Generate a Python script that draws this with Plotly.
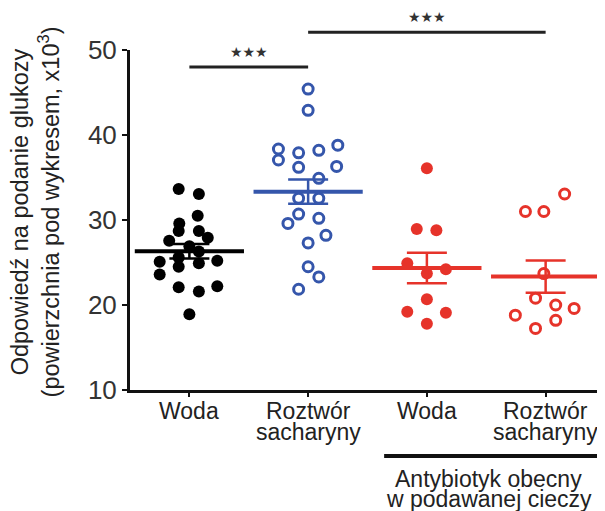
import numpy as np
import plotly.graph_objects as go

# ---- data ----
categories = ["Woda", "Roztwór<br>sacharyny", "Woda", "Roztwór<br>sacharyny"]
group_label = "Antybiotyk obecny<br>w podawanej cieczy"
y_title = "Odpowiedź na podanie glukozy<br>(powierzchnia pod wykresem, x10<sup>3</sup>)"
y_ticks = [10, 20, 30, 40, 50]
sig_text = "★★★"

water = [33.65, 33.06, 30.5, 29.6, 28.7, 28.7, 27.9, 27.56, 26.9, 26.3,
         25.6, 25.1, 25.2, 24.9, 24.5, 23.6, 22.1, 21.6, 22.2, 18.9]
water_dx = [-0.09, 0.08, 0.07, -0.085, -0.09, 0.08, 0.155, -0.17, 0.0, 0.08,
            -0.09, -0.25, 0.235, 0.08, -0.09, -0.25, -0.09, 0.08, 0.235, 0.0]

sacch = [45.4, 42.9, 38.35, 37.9, 38.2, 38.8, 37.06, 36.2, 36.3, 34.9,
         32.55, 32.55, 30.7, 29.6, 30.2, 28.2, 27.3, 24.5, 23.3, 21.85]
sacch_dx = [0.0, 0.0, -0.25, -0.08, 0.09, 0.25, -0.25, -0.08, 0.24, 0.09,
            -0.08, 0.09, -0.08, -0.17, 0.09, 0.15, 0.0, 0.0, 0.09, -0.08]

abx_water = [36.08, 28.94, 28.8, 24.9, 23.7, 24.2, 20.67, 19.2, 19.1, 17.8]
abx_water_dx = [0.0, -0.085, 0.08, -0.165, 0.0, 0.16, 0.0, -0.165, 0.16, 0.0]

abx_sacch = [33.06, 31.0, 31.0, 23.7, 20.8, 20.0, 19.6, 18.8, 18.2, 17.25]
abx_sacch_dx = [0.16, -0.17, -0.015, -0.015, -0.085, 0.085, 0.24, -0.255, 0.085, -0.085]

groups = [water, sacch, abx_water, abx_sacch]
offsets = [water_dx, sacch_dx, abx_water_dx, abx_sacch_dx]

# comparisons: (from category, to category, line level in data units, stars level)
comparisons = [(0, 1, 48.0, 49.75), (1, 3, 52.1, 53.9)]

# ---- styles ----
BLUE = "#3556ab"
RED = "#e6332a"
colors = ["#000000", BLUE, RED, RED]
symbols = ["circle", "circle-open", "circle", "circle-open"]
FONT = "Liberation Sans, Arial, sans-serif"

fig = go.Figure()

for i, (vals, dx) in enumerate(zip(groups, offsets)):
    xs = [i + d for d in dx]
    open_sym = symbols[i].endswith("open")
    fig.add_trace(go.Scatter(
        x=xs, y=vals, mode="markers", showlegend=False, hoverinfo="y",
        marker=dict(symbol=symbols[i], size=10 if open_sym else 12,
                    color=colors[i],
                    line=dict(width=3 if open_sym else 0, color=colors[i])),
    ))

for i, vals in enumerate(groups):
    arr = np.array(vals)
    mean = arr.mean()
    sem = arr.std(ddof=1) / np.sqrt(len(arr))
    fig.add_trace(go.Scatter(
        x=[i], y=[mean], mode="markers", showlegend=False,
        marker=dict(symbol="line-ew", size=78, color=colors[i],
                    line=dict(width=4, color=colors[i])),
        error_y=dict(type="data", array=[sem], visible=True, width=20,
                     thickness=2.5, color=colors[i]),
    ))

# significance bars
for a, b, level, star_level in comparisons:
    fig.add_shape(type="line", xref="x", yref="paper",
                  x0=a, x1=b, y0=(level - 10) / 40, y1=(level - 10) / 40,
                  line=dict(color="#222222", width=3))
    fig.add_annotation(x=(a + b) / 2, y=(star_level - 10) / 40, xref="x", yref="paper",
                       text=sig_text, showarrow=False, yanchor="middle",
                       font=dict(family="DejaVu Sans", size=14, color="#333333"))

# category labels (as real text, two lines with tight spacing)
line_shift = [-21, -42]
for i, lab in enumerate(categories):
    for j, part in enumerate(lab.split("<br>")):
        fig.add_annotation(x=i, y=0, xref="x", yref="paper", text=part,
                           showarrow=False, yanchor="middle", yshift=line_shift[j],
                           font=dict(family=FONT, size=23, color="#222222"))

# antibiotic bracket
fig.add_shape(type="line", xref="x", yref="paper", x0=1.64, x1=3.5,
              y0=-0.194, y1=-0.194, line=dict(color="#111111", width=4))
for j, part in enumerate(group_label.split("<br>")):
    fig.add_annotation(x=2.52, y=0, xref="x", yref="paper", text=part,
                       showarrow=False, yanchor="middle", yshift=[-89, -109][j],
                       font=dict(family=FONT, size=23, color="#222222"))

# y-axis title
fig.add_annotation(x=-0.198, y=0.525, xref="paper", yref="paper", text=y_title,
                   textangle=-90, showarrow=False, xanchor="center", yanchor="middle",
                   font=dict(family=FONT, size=23.5, color="#222222"))

# the page body adds an 8px offset; margins compensate so the plot lands in place
fig.update_layout(
    width=605, height=511,
    margin=dict(l=122, r=8, t=42, b=129),
    paper_bgcolor="white", plot_bgcolor="white",
    font=dict(family=FONT, color="#222222"),
    xaxis=dict(range=[-0.5, 3.5], tickvals=[0, 1, 2, 3], showticklabels=False,
               ticks="outside", ticklen=4, tickwidth=2, tickcolor="#111111",
               showline=True, linewidth=3, linecolor="#111111",
               showgrid=False, zeroline=False, fixedrange=True),
    yaxis=dict(range=[10, 50], tickvals=y_ticks, ticks="outside", ticklen=5,
               tickwidth=2, tickcolor="#111111",
               showline=True, linewidth=3, linecolor="#111111",
               showgrid=False, zeroline=False,
               tickfont=dict(family=FONT, size=26, color="#333333")),
)

fig.write_html("out.html")
